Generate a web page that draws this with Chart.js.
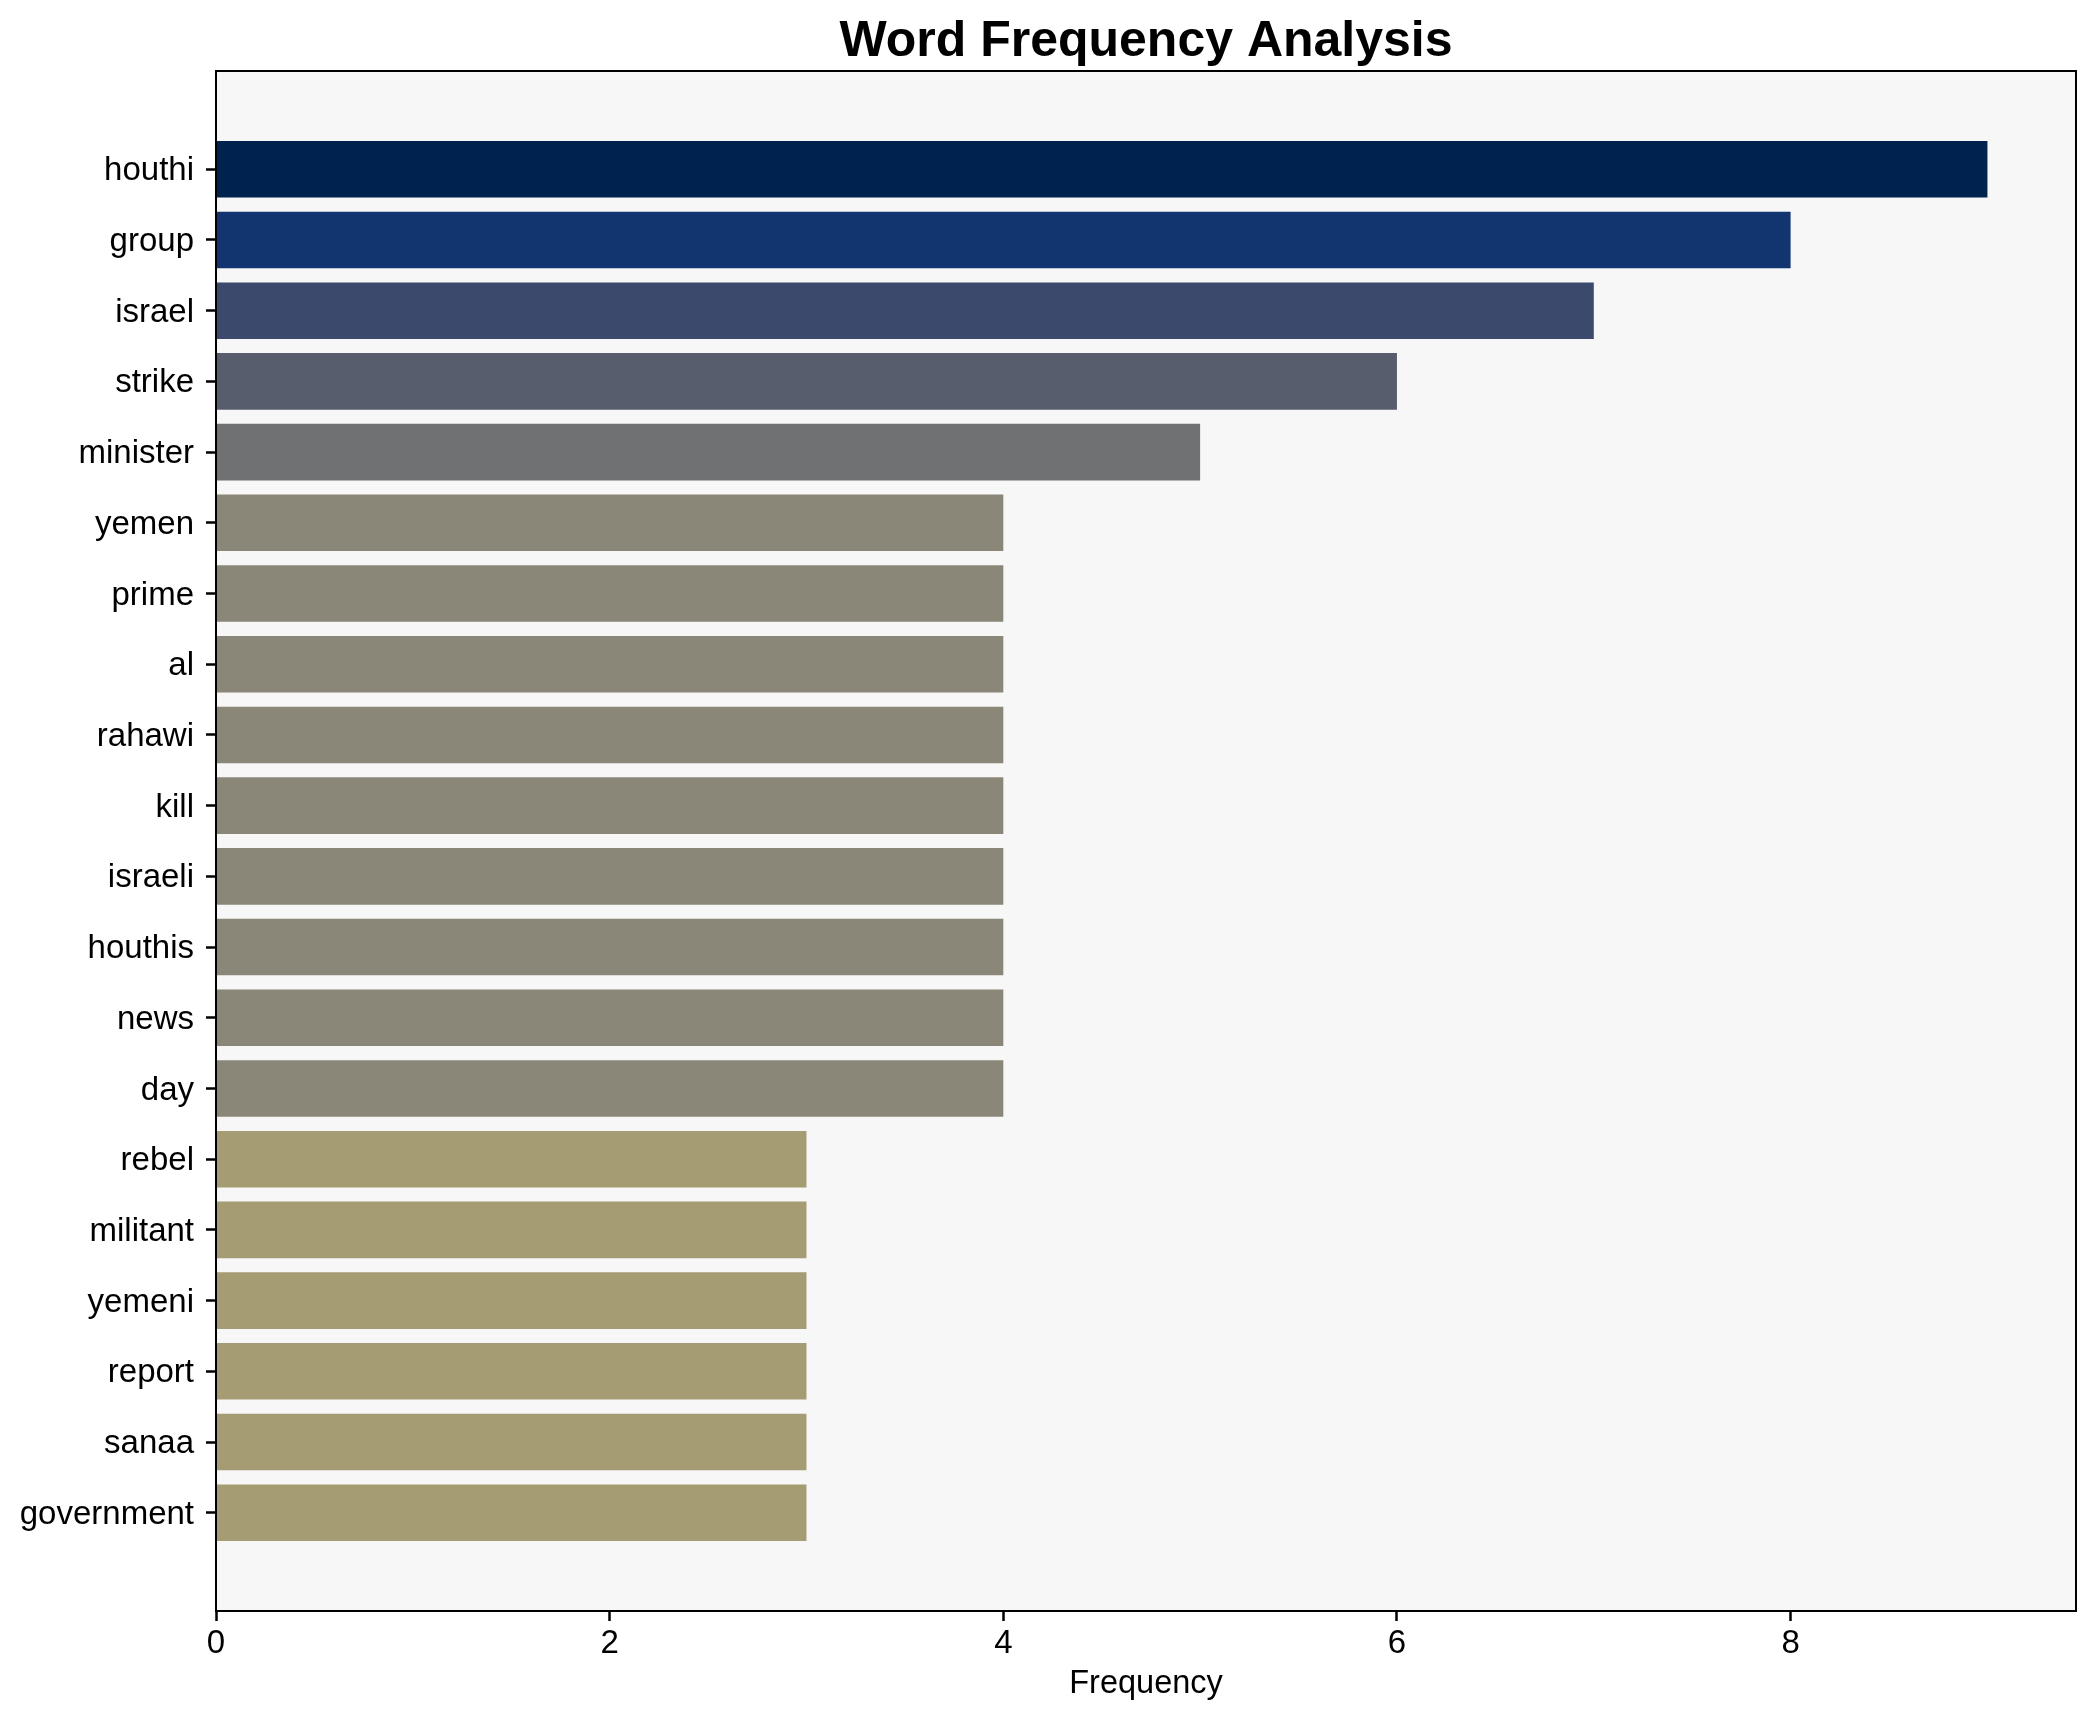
<!DOCTYPE html>
<html>
<head>
<meta charset="utf-8">
<script src="https://cdn.jsdelivr.net/npm/chart.js@4.4.1/dist/chart.umd.min.js"></script>
<style>
  html, body { margin: 0; padding: 0; background: #ffffff; }
  #wrap { width: 2095px; height: 1722px; }
</style>
</head>
<body>
<div id="wrap"><canvas id="c" width="2095" height="1722"></canvas></div>
<script>
// ---- data ----
const words = ["houthi", "group", "israel", "strike", "minister", "yemen", "prime", "al", "rahawi", "kill",
               "israeli", "houthis", "news", "day", "rebel", "militant", "yemeni", "report", "sanaa", "government"];
const frequencies = [9, 8, 7, 6, 5, 4, 4, 4, 4, 4, 4, 4, 4, 4, 3, 3, 3, 3, 3, 3];
const xTicks = [0, 2, 4, 6, 8];
const titleText = "Word Frequency Analysis";
const xLabel = "Frequency";

// ---- style ----
const FONT = "'Liberation Sans', Arial, Helvetica, sans-serif";
const colorByValue = { 9: "#00224e", 8: "#123570", 7: "#3b496c", 6: "#575d6d", 5: "#707173", 4: "#8a8678", 3: "#a59c74" };

const frame = {
  id: "frame",
  beforeDraw(chart) {
    const a = chart.chartArea, ctx = chart.ctx;
    ctx.save();
    ctx.fillStyle = "#ffffff";
    ctx.fillRect(0, 0, chart.width, chart.height);
    ctx.fillStyle = "#f7f7f7";
    ctx.fillRect(a.left, a.top, a.right - a.left, a.bottom - a.top);
    ctx.restore();
  },
  afterDatasetsDraw(chart) {
    const a = chart.chartArea, ctx = chart.ctx;
    ctx.save();
    ctx.strokeStyle = "#000000";
    ctx.lineWidth = 2;
    ctx.strokeRect(a.left, a.top, a.right - a.left, a.bottom - a.top);
    ctx.restore();
  }
};

new Chart(document.getElementById("c"), {
  type: "bar",
  data: {
    datasets: [{
      data: words.map((w, i) => ({ x: frequencies[i], y: i })),
      backgroundColor: frequencies.map(v => colorByValue[v]),
      borderWidth: 0,
      barPercentage: 0.8,
      categoryPercentage: 1.0
    }]
  },
  options: {
    indexAxis: "y",
    responsive: false,
    devicePixelRatio: 1,
    animation: false,
    layout: { padding: { left: 0, top: 0, bottom: 0, right: 19 } },
    plugins: {
      legend: { display: false },
      tooltip: { enabled: false },
      title: {
        display: true,
        text: titleText,
        fullSize: false,
        color: "#000000",
        font: { family: FONT, size: 50, weight: "bold", lineHeight: 1.16 },
        padding: { top: 13, bottom: 0 }
      }
    },
    scales: {
      x: {
        type: "linear",
        position: "bottom",
        min: 0,
        max: 9.45,
        offset: false,
        afterBuildTicks: s => { s.ticks = xTicks.map(v => ({ value: v })); },
        afterFit: s => { s.height = 111; },
        ticks: {
          includeBounds: false,
          color: "#000000",
          padding: 3,
          font: { family: FONT, size: 33 },
          maxRotation: 0
        },
        grid: { offset: false, drawOnChartArea: false, drawTicks: true, tickLength: 10, tickWidth: 2.5, tickColor: "#000000" },
        border: { display: true, color: "#000000", width: 2 },
        title: {
          display: true,
          text: xLabel,
          color: "#000000",
          font: { family: FONT, size: 32.5, lineHeight: 1.2 },
          padding: { top: 0, bottom: 18 }
        }
      },
      y: {
        type: "linear",
        position: "left",
        reverse: true,
        min: -1.39,
        max: 20.39,
        offset: false,
        afterBuildTicks: s => { s.ticks = words.map((w, i) => ({ value: i })); },
        afterFit: s => { s.width = 216; },
        ticks: {
          includeBounds: false,
          autoSkip: false,
          color: "#000000",
          padding: 12,
          labelOffset: 2,
          font: { family: FONT, size: 33 },
          callback: v => words[v]
        },
        grid: { offset: false, drawOnChartArea: false, drawTicks: true, tickLength: 10, tickWidth: 2.5, tickColor: "#000000" },
        border: { display: true, color: "#000000", width: 2 }
      }
    }
  },
  plugins: [frame]
});
</script>
</body>
</html>
